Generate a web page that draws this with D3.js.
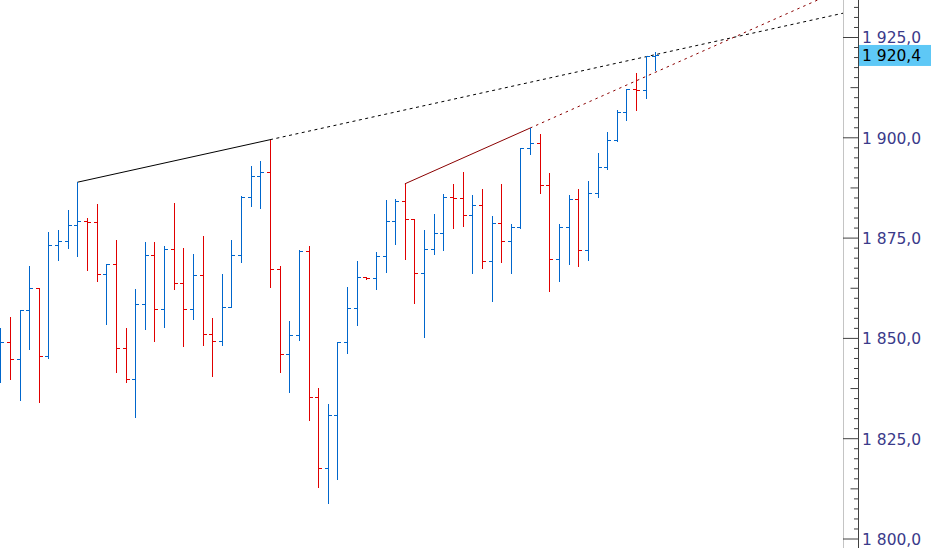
<!DOCTYPE html>
<head>
  <meta charset="utf-8">
  <style>
    body { margin: 0; background: #fff; overflow: hidden; }
    .axis text {
      font-family: 'DejaVu Sans', Verdana, sans-serif;
      font-size: 15.5px;
      fill: #3a3a8a;
    }
    .price text {
      font-family: 'DejaVu Sans', Verdana, sans-serif;
      font-size: 15.5px;
      fill: #000;
    }
  </style>
</head>

<body>
  <script src="https://cdn.jsdelivr.net/npm/d3@7"></script>

  <script>
    const width = 931;
    const height = 548;
    const plotRight = 843;   // grey separator on the left of the price scale
    const axisX = 858;       // dark price axis line

    // OHLC values per bar (bar 0 is the leftmost one)
    const opens = [
      1842.0, 1848.9, 1844.7, 1856.9, 1862.4, 1845.4, 1873.1, 1874.1, 1878.1, 1879.1,
      1879.0, 1865.9, 1868.4, 1847.4, 1839.7, 1858.4, 1870.6, 1857.2, 1872.1, 1863.7,
      1857.2, 1865.6, 1850.9, 1849.2, 1857.7, 1870.6, 1885.1, 1890.3, 1891.3, 1867.2,
      1846.0, 1850.7, 1871.7, 1835.2, 1817.5, 1830.7, 1848.9, 1857.4, 1865.2, 1864.9,
      1870.4, 1879.1, 1884.1, 1879.6, 1866.1, 1872.1, 1876.1, 1885.1, 1884.9, 1880.6,
      1883.1, 1869.2, 1878.6, 1874.1, 1877.6, 1897.4, 1898.6, 1888.2, 1869.7, 1877.6,
      1884.6, 1872.0, 1886.2, 1892.7, 1899.3, 1906.4, 1912.0, 1911.9, 1920.2
    ];
    const highs = [
      1852.4, 1855.1, 1857.0, 1868.0, 1862.4, 1876.5, 1876.9, 1881.9, 1888.8, 1879.9,
      1883.4, 1868.4, 1874.5, 1852.5, 1862.2, 1874.0, 1874.0, 1873.0, 1883.5, 1872.5,
      1871.0, 1875.4, 1855.0, 1866.0, 1874.5, 1885.4, 1892.9, 1894.2, 1899.4, 1868.0,
      1854.3, 1872.0, 1873.0, 1837.5, 1833.6, 1849.0, 1862.6, 1869.2, 1865.3, 1871.5,
      1884.4, 1884.7, 1888.4, 1879.6, 1876.9, 1880.9, 1885.9, 1888.4, 1891.3, 1885.7,
      1887.2, 1880.4, 1888.4, 1878.4, 1897.4, 1902.3, 1900.9, 1891.2, 1878.4, 1885.7,
      1887.2, 1889.2, 1896.1, 1901.4, 1906.9, 1912.0, 1916.0, 1920.3, 1921.3
    ];
    const lows = [
      1839.1, 1839.8, 1834.5, 1847.3, 1834.1, 1845.1, 1869.5, 1872.5, 1870.5, 1867.0,
      1864.2, 1853.5, 1841.4, 1838.9, 1830.3, 1852.3, 1849.3, 1852.6, 1862.3, 1848.1,
      1854.8, 1848.3, 1840.6, 1848.3, 1857.6, 1869.0, 1883.0, 1882.5, 1862.6, 1841.4,
      1836.6, 1849.5, 1829.6, 1812.9, 1808.9, 1814.8, 1846.3, 1853.1, 1864.7, 1862.3,
      1866.5, 1873.5, 1869.6, 1858.8, 1850.1, 1871.0, 1872.0, 1877.5, 1878.0, 1866.3,
      1867.5, 1859.3, 1868.8, 1866.3, 1877.5, 1895.9, 1886.2, 1861.8, 1864.1, 1868.5,
      1867.8, 1869.5, 1885.2, 1892.0, 1899.2, 1904.4, 1906.9, 1909.7, 1916.7
    ];
    const closes = [
      1848.9, 1844.7, 1856.9, 1862.4, 1845.4, 1873.1, 1874.1, 1878.1, 1879.1, 1879.0,
      1865.9, 1868.4, 1847.4, 1839.7, 1858.4, 1870.6, 1857.2, 1872.1, 1863.7, 1857.2,
      1865.6, 1850.9, 1849.2, 1857.7, 1870.6, 1885.1, 1890.3, 1891.3, 1867.2, 1846.0,
      1850.7, 1871.7, 1835.2, 1817.5, 1830.7, 1848.9, 1857.4, 1865.2, 1864.9, 1870.4,
      1879.1, 1884.1, 1879.6, 1866.1, 1872.1, 1876.1, 1885.1, 1884.9, 1880.6, 1883.1,
      1869.2, 1878.6, 1874.1, 1877.6, 1897.4, 1898.6, 1888.2, 1869.7, 1877.6, 1884.6,
      1872.0, 1886.2, 1892.7, 1899.3, 1906.4, 1912.0, 1911.9, 1920.2, 1920.4
    ];

    // trend lines drawn through two bar highs (start bar, end bar)
    const trendStarts = [8, 42];
    const trendEnds = [28, 55];

    // price scale ticks
    const labelTicks = [1800, 1825, 1850, 1875, 1900, 1925];
    const lastPrice = 1920.4;

    const ru = d3.formatLocale({ decimal: ",", thousands: " ", grouping: [3], currency: ["", ""] });
    const fmt = ru.format(",.1f");

    const svg = d3.select("body")
      .append("svg")
      .attr("width", width)
      .attr("height", height)
      .style("display", "block");

    const xScale = d3.scaleLinear().domain([0, opens.length - 1]).range([0.3, 655.3]);
    const yScale = d3.scaleLinear().domain([1800, 1925]).range([538.5, 37]);

    svg.append("defs").append("clipPath")
      .attr("id", "plot-clip")
      .append("rect")
      .attr("x", 0).attr("y", 0)
      .attr("width", plotRight).attr("height", height);

    const plot = svg.append("g").attr("clip-path", "url(#plot-clip)");

    //------------------------- TREND LINES -------------------------//
    const trendColors = ["#000000", "#8a0000"];
    const trendDash = ["3,3.5", "2.5,4"];
    trendStarts.forEach((a, k) => {
      const b = trendEnds[k];
      const x1 = xScale(a), y1 = yScale(highs[a]);
      const x2 = xScale(b), y2 = yScale(highs[b]);
      const slope = (y2 - y1) / (x2 - x1);
      // solid part between the two highs
      plot.append("line")
        .attr("x1", x1).attr("y1", y1)
        .attr("x2", x2).attr("y2", y2)
        .attr("stroke", trendColors[k])
        .attr("stroke-width", 1);
      // dotted extension up to the price scale
      plot.append("line")
        .attr("x1", x2).attr("y1", y2)
        .attr("x2", plotRight).attr("y2", y2 + slope * (plotRight - x2))
        .attr("stroke", trendColors[k])
        .attr("stroke-width", 1)
        .attr("stroke-dasharray", trendDash[k]);
    });

    //---------------------------- BARS -----------------------------//
    const idx = d3.range(opens.length);
    plot.append("g")
      .attr("shape-rendering", "crispEdges")
      .selectAll("path")
      .data(idx)
      .enter().append("path")
      .attr("fill", "none")
      .attr("stroke-width", 1)
      .attr("stroke", i => closes[i] >= opens[i] ? "#0066cc" : "#e00000")
      .attr("d", i => {
        const xc = Math.round(xScale(i)) + 0.5;
        const yh = Math.round(yScale(highs[i]));
        const yl = Math.round(yScale(lows[i])) + 1;
        const yo = Math.round(yScale(opens[i])) + 0.5;
        const yc = Math.round(yScale(closes[i])) + 0.5;
        return `M${xc},${yh}V${yl}M${xc - 3.5},${yo}H${xc}M${xc},${yc}H${xc + 3.5}`;
      });

    //---------------------------- AXIS -----------------------------//
    svg.append("line")
      .attr("x1", plotRight + 0.5).attr("x2", plotRight + 0.5)
      .attr("y1", 0).attr("y2", height)
      .attr("stroke", "#c4c4c4");

    const tickAxis = d3.axisLeft(yScale)
      .tickValues(d3.range(1797.5, 1935.1, 2.5))
      .tickSize(4)
      .tickSizeOuter(0)
      .tickFormat("");

    const tickG = svg.append("g")
      .attr("transform", "translate(" + axisX + ",0)")
      .call(tickAxis);
    tickG.select(".domain").remove();
    tickG.selectAll(".tick line")
      .attr("stroke", "#404040")
      .attr("x2", d => d % 25 === 0 ? -15 : (d % 12.5 === 0 ? -7.5 : -4));

    svg.append("line")
      .attr("x1", axisX + 0.5).attr("x2", axisX + 0.5)
      .attr("y1", 0).attr("y2", height)
      .attr("stroke", "#404040");

    const labelAxis = d3.axisRight(yScale)
      .tickValues(labelTicks)
      .tickSize(0)
      .tickPadding(4)
      .tickFormat(fmt);

    const labelG = svg.append("g")
      .attr("class", "axis")
      .attr("transform", "translate(" + axisX + ",0)")
      .call(labelAxis);
    labelG.select(".domain").remove();
    labelG.selectAll("text").attr("dy", "0.38em");

    // last price marker
    const price = svg.append("g").attr("class", "price");
    price.append("rect")
      .attr("x", axisX + 1)
      .attr("y", yScale(lastPrice) - 10.5)
      .attr("width", width - axisX - 1)
      .attr("height", 21)
      .attr("fill", "#5ec8f6");
    price.append("text")
      .attr("x", axisX + 4)
      .attr("y", yScale(lastPrice))
      .attr("dy", "0.38em")
      .text(fmt(lastPrice));
  </script>
</body>
